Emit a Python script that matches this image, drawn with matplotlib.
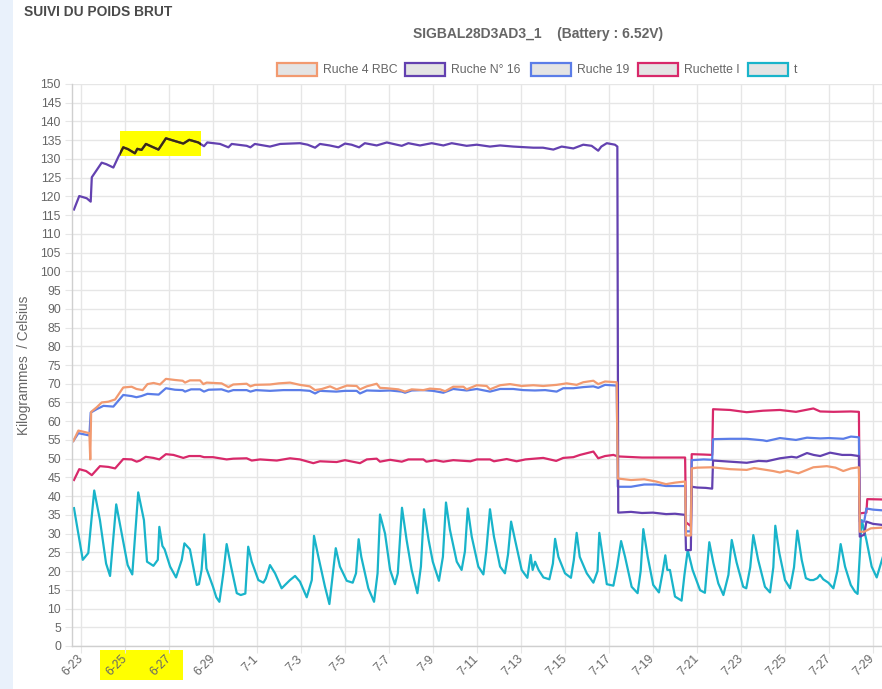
import matplotlib.pyplot as plt
from matplotlib.patches import Rectangle

W, H = 882, 689

# x positions are days counted from 6-23 00:00
tick_days = list(range(0, 37, 2))
tick_labels = ['6-23', '6-25', '6-27', '6-29', '7-1', '7-3', '7-5', '7-7', '7-9', '7-11',
               '7-13', '7-15', '7-17', '7-19', '7-21', '7-23', '7-25', '7-27', '7-29']

series_names = ['Ruche 4 RBC', 'Ruche N° 16', 'Ruche 19', 'Ruchette I', 't']
series_colors = ['#f29a70', '#6341b0', '#5b7de8', '#d8296a', '#19b4ca']

rbc_days = [-0.35, -0.12, 0.10, 0.38, 0.42, 0.46, 0.71, 0.94, 1.24, 1.55, 1.92, 2.30, 2.52, 2.80,
            3.02, 3.30, 3.59, 3.86, 4.27, 4.62, 4.73, 4.95, 5.41, 5.56, 5.71, 6.39, 6.70, 6.92,
            7.53, 7.70, 7.90, 8.59, 9.00, 9.50, 9.95, 10.40, 10.64, 10.95, 11.32, 11.62, 12.08,
            12.53, 12.68, 12.99, 13.44, 13.59, 13.90, 14.42, 14.73, 15.03, 15.56, 15.86, 16.32,
            16.55, 16.92, 17.38, 17.53, 17.99, 18.44, 18.59, 19.05, 19.50, 20.03, 20.56, 21.01,
            21.62, 22.08, 22.53, 22.83, 23.29, 23.51, 23.82, 24.35, 24.40, 25.00, 25.60, 26.14,
            26.59, 27.00, 27.46, 27.50, 27.72, 27.76, 28.00, 28.66, 29.50, 30.26, 30.60, 31.47,
            31.77, 32.10, 32.61, 33.29, 33.90, 34.30, 34.65, 35.00, 35.36, 35.40, 35.60, 35.90,
            36.45]
rbc_vals = [54.7, 57.5, 57.2, 56.8, 49.8, 62.5, 63.7, 65.0, 65.2, 65.8, 69.0, 69.2, 68.6, 68.3,
            69.9, 70.2, 69.8, 71.3, 71.0, 70.8, 70.3, 70.9, 70.9, 69.9, 70.3, 70.1, 69.1, 69.8,
            70.0, 69.3, 69.7, 69.8, 70.1, 70.3, 69.7, 69.3, 68.3, 68.6, 69.3, 68.5, 69.5,
            69.4, 68.5, 69.3, 70.0, 68.9, 68.8, 68.5, 67.9, 68.5, 68.3, 68.7, 68.5,
            68.0, 69.2, 69.2, 68.5, 69.6, 69.4, 68.5, 69.6, 69.9, 69.4, 69.6, 69.4,
            69.7, 70.1, 69.7, 70.4, 70.8, 69.9, 70.6, 70.4, 44.7, 44.3, 44.5, 43.9,
            43.2, 43.6, 43.9, 29.5, 29.5, 47.4, 47.6, 47.7, 47.2, 47.0, 47.5, 46.7,
            46.3, 46.8, 46.1, 47.7, 48.0, 47.6, 46.7, 47.4, 47.7, 30.5, 30.5, 31.4,
            31.6]

n16_days = [-0.32, -0.08, 0.26, 0.44, 0.49, 0.71, 0.94, 1.15, 1.47, 1.70, 1.92, 2.14, 2.45, 2.56,
            2.75, 2.95, 3.21, 3.52, 3.86, 4.20, 4.65, 4.92, 5.33, 5.59, 5.74, 6.32, 6.70, 6.85,
            7.53, 7.70, 7.90, 8.59, 9.05, 9.95, 10.30, 10.64, 10.86, 11.30, 11.70, 12.00, 12.30,
            12.64, 12.90, 13.44, 13.90, 14.35, 14.58, 14.88, 15.41, 15.94, 16.47, 16.85, 17.53,
            17.99, 18.59, 19.05, 19.65, 20.56, 21.00, 21.47, 21.85, 22.38, 22.83, 23.21, 23.51,
            23.65, 23.90, 24.27, 24.38, 24.42, 25.00, 25.50, 26.00, 26.60, 27.00, 27.46, 27.50,
            27.72, 27.76, 28.00, 28.40, 28.69, 28.73, 29.50, 30.26, 30.80, 31.17, 31.77, 32.30,
            32.53, 33.00, 33.30, 33.60, 34.05, 34.60, 35.00, 35.36, 35.40, 35.60, 35.70, 36.00,
            36.45]
n16_vals = [116.5, 120.1, 119.5, 118.6, 125.1, 127.0, 129.0, 128.6, 127.7, 130.6, 133.1, 132.6,
            131.5, 132.7, 132.4, 134.0, 133.3, 132.5, 135.5, 134.9, 134.1, 135.1, 134.4, 133.4,
            134.4, 134.0, 133.1, 134.0, 133.5, 133.1, 134.0, 133.3, 134.0, 134.2, 133.8, 133.0,
            134.0, 133.6, 133.1, 134.1, 133.8, 133.1, 134.2, 133.6, 134.4, 133.8, 133.5, 134.2,
            133.6, 134.2, 133.6, 134.2, 133.5, 133.8, 133.3, 133.6, 133.3, 133.0, 133.0, 132.5,
            133.3, 132.8, 133.8, 133.5, 132.2, 133.3, 134.2, 133.8, 133.3, 35.6, 35.8, 35.5,
            35.6, 35.2, 35.3, 35.0, 25.6, 25.6, 42.5, 42.3, 42.2, 42.0, 49.5, 49.2, 48.9, 49.4,
            49.3, 50.1, 50.5, 50.3, 51.5, 51.0, 50.7, 51.6, 51.0, 51.0, 50.7, 29.2, 29.7, 33.2,
            32.6, 32.3]

r19_days = [-0.35, -0.12, 0.38, 0.44, 0.71, 1.02, 1.47, 1.92, 2.30, 2.52, 2.74, 3.02, 3.53, 3.86,
            4.27, 4.62, 4.73, 5.00, 5.41, 5.59, 5.80, 6.39, 6.70, 6.92, 7.53, 7.70, 7.95, 8.59,
            9.20, 9.95, 10.40, 10.64, 10.86, 11.60, 12.00, 12.53, 12.68, 12.99, 13.59, 14.05,
            14.58, 14.73, 15.03, 15.56, 16.00, 16.47, 16.92, 17.53, 17.99, 18.59, 19.05, 19.65,
            20.10, 20.63, 21.10, 21.62, 21.92, 22.38, 22.83, 23.29, 23.51, 23.82, 24.35, 24.40,
            25.00, 25.60, 26.14, 26.59, 27.46, 27.50, 27.72, 27.76, 28.30, 28.69, 28.73, 29.50,
            30.26, 31.00, 31.17, 31.77, 32.50, 33.00, 33.60, 34.00, 34.65, 35.00, 35.36, 35.40,
            35.60, 35.70, 36.00, 36.45]
r19_vals = [54.7, 56.8, 56.2, 62.3, 63.2, 64.1, 63.9, 67.0, 66.7, 66.4, 66.7, 67.3, 67.1, 68.8,
            68.4, 68.3, 67.9, 68.5, 68.5, 67.9, 68.4, 68.5, 67.9, 68.3, 68.3, 67.9, 68.3, 68.1,
            68.3, 68.3, 68.1, 67.4, 68.1, 67.9, 68.1, 68.1, 67.4, 68.2, 68.1, 68.2,
            67.9, 67.6, 68.2, 68.3, 68.1, 67.6, 68.6, 68.2, 68.6, 67.9, 68.6, 68.6,
            68.3, 68.2, 68.3, 67.9, 68.8, 68.8, 69.1, 69.3, 68.9, 69.7, 69.5, 42.5,
            42.5, 43.1, 43.1, 42.7, 42.7, 30.6, 30.6, 49.6, 49.8, 49.7, 55.2, 55.3,
            55.3, 54.9, 54.7, 55.5, 55.0, 55.6, 55.4, 55.5, 55.3, 55.9, 55.7, 33.2,
            33.2, 36.7, 36.4, 36.2]

rchi_days = [-0.32, -0.08, 0.23, 0.49, 0.86, 1.24, 1.55, 1.92, 2.30, 2.53, 2.68, 2.94, 3.29, 3.56,
             3.86, 4.20, 4.65, 4.92, 5.41, 5.59, 6.00, 6.62, 6.92, 7.53, 7.76, 8.14, 8.90, 9.50,
             9.95, 10.56, 10.86, 11.62, 12.00, 12.68, 12.99, 13.44, 13.59, 14.05, 14.58, 14.88,
             15.56, 15.70, 16.10, 16.47, 16.92, 17.70, 17.99, 18.59, 18.77, 19.35, 19.80, 20.20,
             21.01, 21.60, 21.92, 22.38, 22.68, 23.29, 23.51, 23.82, 24.20, 24.40, 25.50, 26.40,
             27.46, 27.50, 27.72, 27.76, 28.30, 28.69, 28.73, 29.50, 30.26, 31.00, 31.77, 32.50,
             33.29, 33.60, 34.20, 35.00, 35.36, 35.40, 35.70, 35.74, 36.45]
rchi_vals = [44.3, 47.2, 46.7, 45.6, 48.0, 47.8, 47.4, 49.9, 49.8, 49.2, 49.5, 50.5, 50.2, 49.8,
             51.2, 51.0, 50.2, 50.7, 50.7, 50.4, 50.4, 49.8, 50.0, 50.1, 49.5, 49.8, 49.5, 50.1,
             49.8, 48.8, 49.3, 49.1, 49.6, 48.8, 49.8, 50.0, 49.2, 49.7, 49.2, 49.8,
             49.8, 49.2, 49.6, 49.2, 49.6, 49.3, 49.8, 49.8, 49.3, 49.9, 49.3, 49.8,
             50.2, 49.4, 50.2, 50.4, 51.0, 51.9, 50.1, 50.7, 51.0, 50.6, 50.3, 50.3,
             50.3, 33.0, 32.0, 51.2, 51.1, 51.0, 63.2, 63.0, 62.4, 62.8, 63.0, 62.5,
             63.4, 62.6, 62.5, 62.6, 62.5, 35.4, 35.6, 39.2, 39.1]

t_days = [-0.32, 0.08, 0.33, 0.60, 0.86, 1.14, 1.32, 1.60, 1.85, 2.12, 2.33, 2.60, 2.86, 3.00,
          3.29, 3.49, 3.56, 3.70, 3.80, 4.05, 4.32, 4.58, 4.70, 4.95, 5.26, 5.36, 5.48, 5.60,
          5.70, 6.00, 6.15, 6.29, 6.47, 6.62, 6.82, 7.08, 7.26, 7.47, 7.60, 7.76, 8.06, 8.29,
          8.40, 8.59, 8.82, 9.12, 9.50, 9.73, 9.95, 10.26, 10.49, 10.59, 10.79, 11.09, 11.29,
          11.45, 11.58, 11.77, 12.08, 12.35, 12.50, 12.62, 12.74, 13.06, 13.32, 13.48, 13.59,
          13.82, 14.05, 14.27, 14.40, 14.59, 14.80, 15.03, 15.29, 15.45, 15.59, 15.80, 15.99,
          16.27, 16.45, 16.59, 16.77, 17.08, 17.30, 17.45, 17.58, 17.76, 18.06, 18.29, 18.42,
          18.59, 18.77, 19.05, 19.27, 19.41, 19.55, 19.73, 20.03, 20.29, 20.44, 20.53, 20.64,
          20.80, 21.02, 21.29, 21.45, 21.55, 21.70, 22.00, 22.27, 22.40, 22.53, 22.67, 22.99,
          23.29, 23.48, 23.56, 23.74, 23.90, 24.20, 24.37, 24.55, 24.73, 25.03, 25.30, 25.44,
          25.56, 25.76, 26.01, 26.27, 26.43, 26.56, 26.65, 26.77, 27.00, 27.30, 27.43, 27.58,
          27.80, 28.14, 28.36, 28.56, 28.74, 28.97, 29.20, 29.43, 29.58, 29.80, 30.10, 30.24,
          30.42, 30.56, 30.78, 31.09, 31.32, 31.47, 31.56, 31.74, 32.00, 32.23, 32.41, 32.56,
          32.76, 32.95, 33.14, 33.29, 33.47, 33.59, 33.74, 33.97, 34.20, 34.38, 34.53, 34.73,
          34.99, 35.18, 35.30, 35.49, 35.70, 35.94, 36.17, 36.45]
t_vals = [36.8, 23.0, 24.8, 41.5, 33.6, 22.0, 18.7, 37.8, 30.0, 21.6, 19.1, 41.0, 33.6, 22.5,
          21.4, 23.0, 31.8, 26.7, 25.8, 21.2, 18.3, 23.0, 27.4, 25.8, 16.3, 16.5, 20.3, 29.8,
          20.7, 15.8, 13.0, 11.8, 19.4, 27.2, 21.2, 14.1, 13.6, 14.0, 26.5, 22.5, 17.6, 16.9,
          18.0, 21.6, 19.4, 15.4, 17.6, 18.7, 17.2, 13.0, 17.6, 29.4, 23.8, 15.8, 11.2,
          19.4, 26.1, 21.2, 17.4, 16.9, 19.4, 28.5, 23.8, 15.4, 11.8, 19.4, 35.1,
          30.0, 20.3, 16.5, 19.4, 36.9, 28.3, 20.3, 14.1, 21.2, 36.5, 28.3, 22.5,
          17.4, 23.8, 38.3, 31.0, 22.5, 20.3, 25.2, 36.7, 29.2, 21.2, 19.1, 25.2,
          36.5, 29.2, 21.2, 19.4, 24.4, 33.2, 28.3, 20.3, 18.2, 24.3, 20.3, 22.5,
          20.3, 18.3, 17.8, 22.0, 28.6, 23.8, 19.4, 18.2, 22.9, 30.2, 23.8, 19.4,
          16.9, 20.0, 30.2, 23.0, 16.5, 16.1, 21.2, 28.0, 23.8, 15.8, 14.1, 20.0,
          31.2, 23.8, 16.3, 14.3, 19.4, 24.2, 20.3, 20.3, 13.2, 12.1, 19.0, 25.6,
          20.3, 14.9, 14.2, 27.7, 22.3, 16.7, 13.6, 19.0, 28.3, 22.3, 15.8, 15.4,
          21.0, 29.6, 23.0, 15.8, 14.3, 21.0, 32.1, 24.9, 17.6, 15.4, 21.0, 30.8,
          23.0, 18.1, 17.6, 17.6, 18.1, 19.0, 17.8, 16.9, 15.4, 20.0, 27.2, 21.2,
          16.3, 14.5, 13.9, 33.6, 28.3, 21.2, 18.3, 23.8]

all_days = [rbc_days, n16_days, r19_days, rchi_days, t_days]
all_vals = [rbc_vals, n16_vals, r19_vals, rchi_vals, t_vals]


def fx(px):
    return px / W


def fy(py):
    return 1 - py / H


plt.rcParams['font.family'] = ['Liberation Sans', 'DejaVu Sans']

fig = plt.figure(figsize=(W / 100, H / 100), dpi=100)
fig.patches.append(Rectangle((0, 0), fx(13), 1, transform=fig.transFigure,
                             facecolor='#e9f1fb', edgecolor='none', zorder=-2))

ax = fig.add_axes([fx(72), fy(646), fx(882) - fx(72), (646 - 84) / H])

# chart.js draws the first dataset on top
for i in range(len(series_names) - 1, -1, -1):
    ax.plot(all_days[i], all_vals[i], color=series_colors[i], lw=1.6,
            solid_joinstyle='round', zorder=2 + (5 - i) * 0.1)

# yellow highlighter on the top line
hl = Rectangle((fx(120), fy(156)), fx(201) - fx(120), (156 - 131) / H,
               transform=fig.transFigure, facecolor='#ffff00', edgecolor='none', zorder=1)
ax.add_artist(hl)
dark, = ax.plot(n16_days, n16_vals, color='#3a2c10', lw=1.6, zorder=3)
dark.set_clip_path(hl)

fig.patches.append(Rectangle((fx(100), fy(680)), fx(183) - fx(100), (680 - 650) / H,
                             transform=fig.transFigure, facecolor='#ffff00',
                             edgecolor='none', zorder=-1))

ax.set_xlim(-0.41, 36.41)
ax.set_ylim(0, 150)
ax.set_yticks(range(0, 151, 5))
ax.set_xticks(tick_days)
ax.set_xticklabels(tick_labels, rotation=45, ha='right', va='center', rotation_mode='anchor')
for lab in ax.get_xticklabels():
    if lab.get_text() in ('6-25', '6-27'):
        lab.set_color('#666600')

ax.set_axisbelow(True)
ax.grid(True, color='#e6e6e6', lw=1)
ax.tick_params(axis='both', length=5, color='#e6e6e6', labelcolor='#666666',
               labelsize=8.8, pad=3)
for s in ['top', 'right']:
    ax.spines[s].set_visible(False)
for s in ['left', 'bottom']:
    ax.spines[s].set_color('#cfcfcf')
    ax.spines[s].set_linewidth(1)

ax.set_ylabel('Kilogrammes  / Celsius', fontsize=9.8, color='#666666')
ax.yaxis.set_label_coords((31 - 72) / (882 - 72), 0.5)

# legend boxes
legend_x = [277, 405, 531, 638, 748]
for name, color, lx in zip(series_names, series_colors, legend_x):
    fig.patches.append(Rectangle((fx(lx), fy(76)), 40 / W, 13 / H, transform=fig.transFigure,
                                 facecolor='#e4e4e4', edgecolor=color, lw=1.6))
    fig.text(fx(lx + 46), fy(70), name, fontsize=8.8, color='#666666', ha='left', va='center')

fig.text(fx(538), fy(34), 'SIGBAL28D3AD3_1    (Battery : 6.52V)', fontsize=10,
         fontweight='bold', color='#666666', ha='center', va='center')
fig.text(fx(24), fy(12), 'SUIVI DU POIDS BRUT', fontsize=9.9, fontweight='bold',
         color='#4a4a4a', ha='left', va='center')

fig.savefig('out.png', dpi=100)
